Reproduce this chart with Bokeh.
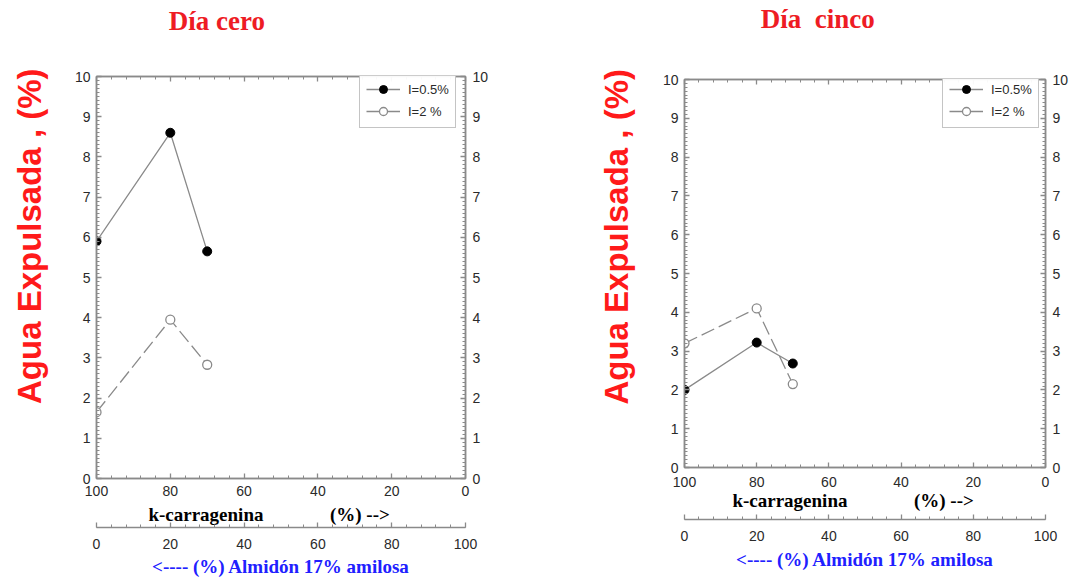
from bokeh.plotting import figure
from bokeh.layouts import row, column
from bokeh.models import (LinearAxis, Range1d, Legend, LegendItem,
                          ColumnDataSource, SingleIntervalTicker)
from bokeh.embed import file_html
from bokeh.resources import INLINE

# ---------------- data ----------------
kcarr = [100, 80, 70]                 # % k-carragenina
cero_i05 = [5.9, 8.6, 5.65]           # Día cero, I=0.5%
cero_i2 = [1.65, 3.95, 2.83]          # Día cero, I=2 %
cinco_i05 = [2.0, 3.22, 2.68]         # Día cinco, I=0.5%
cinco_i2 = [3.2, 4.1, 2.15]           # Día cinco, I=2 %

titles = ["Día cero", "Día\u00a0\u00a0cinco"]
legend_labels = ["I=0.5%", "I=2 %"]
y_label = "Agua Expulsada , (%)"
x_label_a = "k-carragenina"
x_label_b = "(%) -->"
x2_label = "<---- (%) Almidón 17% amilosa"

NB = "\u00a0"
GRAY = "#8a8a8a"
TICK_TXT = "#2a2a2a"


def style_axis(ax):
    ax.axis_line_color = GRAY
    ax.axis_line_width = 1.5
    ax.major_tick_line_color = GRAY
    ax.major_tick_line_width = 1.3
    ax.minor_tick_line_color = GRAY
    ax.minor_tick_line_width = 1
    ax.major_tick_in = 5
    ax.major_tick_out = 0
    ax.minor_tick_in = 3
    ax.minor_tick_out = 0
    ax.major_label_text_font = "Liberation Sans"
    ax.major_label_text_font_size = "14px"
    ax.major_label_text_color = TICK_TXT


def make_panel(title, y05, y2, g):
    p = figure(width=g["w"], height=586, output_backend="svg",
               toolbar_location=None,
               x_range=Range1d(100, 0), y_range=Range1d(0, 10),
               min_border_left=g["bl"], min_border_right=g["br"],
               min_border_top=g["bt"], min_border_bottom=g["bb"])
    p.title = None
    p.background_fill_color = "white"
    p.border_fill_color = "white"
    p.outline_line_color = GRAY
    p.outline_line_width = 1.5
    p.xgrid.visible = False
    p.ygrid.visible = False

    xt = SingleIntervalTicker(interval=20, num_minor_ticks=5)
    yt = SingleIntervalTicker(interval=1, num_minor_ticks=10)

    # primary bottom axis (k-carragenina)
    xa = p.xaxis[0]
    xa.ticker = xt
    style_axis(xa)
    xa.major_label_standoff = g["xls"]
    xa.axis_label = x_label_a + NB * 14 + x_label_b + NB * 5
    xa.axis_label_text_font = "Liberation Serif"
    xa.axis_label_text_font_style = "bold"
    xa.axis_label_text_font_size = "19px"
    xa.axis_label_text_color = "black"
    xa.axis_label_standoff = g["xas"]

    # left axis
    ya = p.yaxis[0]
    ya.ticker = yt
    style_axis(ya)
    ya.major_label_standoff = 6
    ya.axis_label = NB * g["ynb"] + y_label
    ya.axis_label_text_font = "Liberation Sans"
    ya.axis_label_text_font_style = "bold"
    ya.axis_label_text_font_size = "33px"
    ya.axis_label_text_color = "#ff1a1a"
    ya.axis_label_standoff = g["yas"]

    # right axis
    yr = LinearAxis(ticker=yt)
    style_axis(yr)
    yr.major_label_standoff = 7
    p.add_layout(yr, "right")

    # top axis: ticks only, its label carries the panel title
    xtop = LinearAxis(ticker=xt)
    style_axis(xtop)
    xtop.major_label_text_font_size = "1px"
    xtop.major_label_text_color = None
    xtop.major_label_standoff = 0
    xtop.axis_label = title + NB * g["tnb"]
    xtop.axis_label_text_font = "Liberation Serif"
    xtop.axis_label_text_font_style = "bold"
    xtop.axis_label_text_font_size = "27px"
    xtop.axis_label_text_color = "#ee1c24"
    xtop.axis_label_standoff = g["tas"]
    p.add_layout(xtop, "above")

    # invisible spacer between the two bottom axes
    if g["sp"] > 0:
        sp = LinearAxis(ticker=xt)
        sp.axis_line_color = None
        sp.major_tick_line_color = None
        sp.minor_tick_line_color = None
        sp.major_label_text_color = None
        sp.major_label_text_font_size = "1px"
        sp.major_label_standoff = g["sp"]
        p.add_layout(sp, "below")

    # secondary bottom axis (Almidón)
    p.extra_x_ranges = {"alm": Range1d(0, 100)}
    x2 = LinearAxis(x_range_name="alm",
                    ticker=SingleIntervalTicker(interval=20, num_minor_ticks=5))
    style_axis(x2)
    x2.major_label_standoff = g["x2ls"]
    x2.axis_label = x2_label
    x2.axis_label_text_font = "Liberation Serif"
    x2.axis_label_text_font_style = "bold"
    x2.axis_label_text_font_size = "19px"
    x2.axis_label_text_color = "#2020ff"
    x2.axis_label_standoff = g["x2as"]
    p.add_layout(x2, "below")

    s05 = ColumnDataSource(dict(x=kcarr, y=y05))
    s2 = ColumnDataSource(dict(x=kcarr, y=y2))
    l05 = p.line("x", "y", source=s05, line_color=GRAY, line_width=1.3)
    p.line("x", "y", source=s2, line_color=GRAY, line_width=1.3,
           line_dash="14 5")
    m05 = p.scatter("x", "y", source=s05, size=9, marker="circle",
                    fill_color="black", line_color="black")
    m2 = p.scatter("x", "y", source=s2, size=9, marker="circle",
                   fill_color="white", line_color=GRAY, line_width=1.3)
    # solid proxy line (no visible data) for the legend of the open series
    proxy = p.line(x=[float("nan")], y=[float("nan")],
                   line_color=GRAY, line_width=1.3)

    leg = Legend(items=[LegendItem(label=legend_labels[0], renderers=[l05, m05]),
                        LegendItem(label=legend_labels[1], renderers=[proxy, m2])],
                 location=g["legloc"])
    leg.border_line_color = GRAY
    leg.border_line_width = 1
    leg.background_fill_color = "white"
    leg.padding = 6
    leg.spacing = 2
    leg.margin = 0
    leg.glyph_width = 34
    leg.glyph_height = 20
    leg.label_height = 20
    leg.label_standoff = 8
    leg.label_text_font = "Liberation Sans"
    leg.label_text_font_size = "13px"
    leg.label_text_color = TICK_TXT
    p.add_layout(leg, "center")
    return p


g1 = dict(w=580, bl=96, br=115, bt=76, bb=108, tnb=19, tas=41,
          xls=7, xas=5, ynb=9, yas=24, sp=0, x2ls=11, x2as=4,
          legloc=(263, 350))
g2 = dict(w=493, bl=104, br=28, bt=79, bb=119, tnb=14, tas=46,
          xls=9, xas=0, ynb=8, yas=25, sp=7, x2ls=11, x2as=5,
          legloc=(258, 339))

p1 = make_panel(titles[0], cero_i05, cero_i2, g1)
p2 = make_panel(titles[1], cinco_i05, cinco_i2, g2)

layout = row(column(p1), column(p2), spacing=0)
open("out.html", "w").write(file_html(layout, INLINE))
